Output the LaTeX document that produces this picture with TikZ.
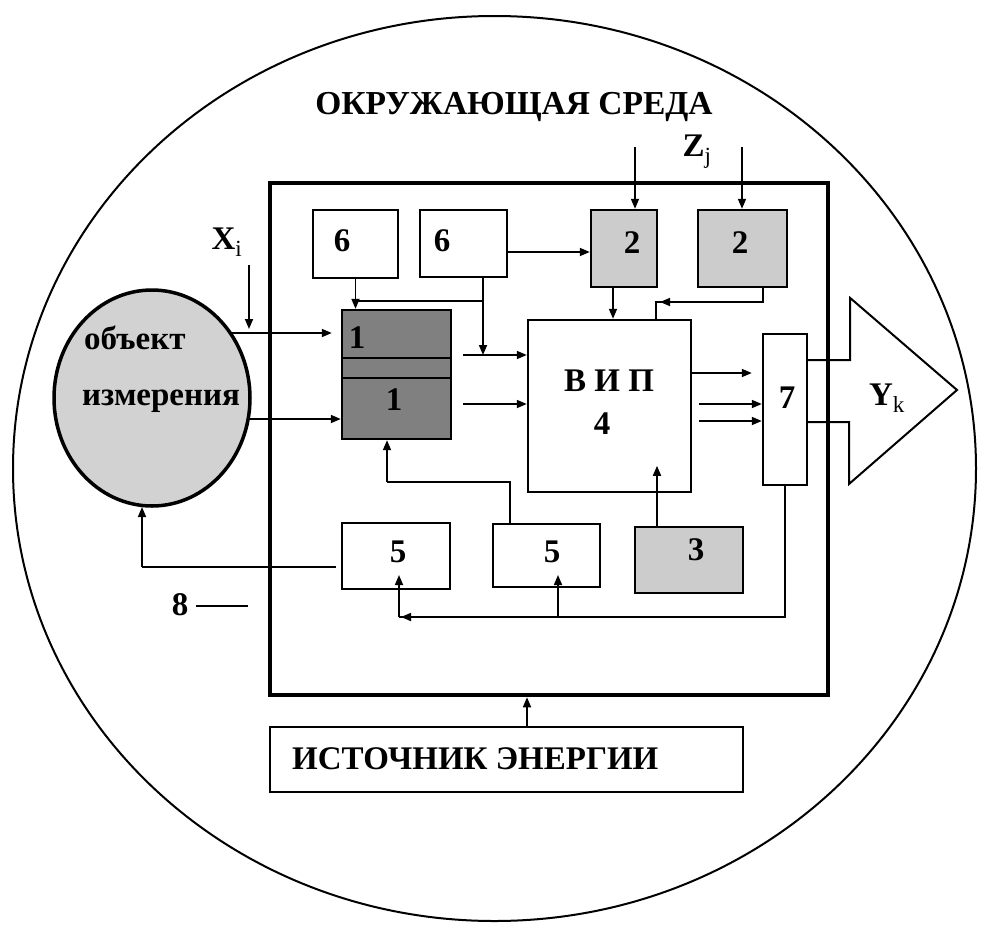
\documentclass[tikz,border=0pt]{standalone}
\usepackage{fontspec}
\setmainfont{Liberation Serif}[BoldFont={Liberation Serif Bold}]
\usetikzlibrary{arrows.meta,calc,shapes.geometric}
\begin{document}
\begin{tikzpicture}[x=1pt,y=-1pt,
  box/.style={draw,line width=2.4pt,inner sep=0pt},
  arr/.style={line width=1.7pt,-{Triangle[length=10pt,width=8pt]}},
  ln/.style={line width=1.7pt},
  txt/.style={inner sep=0pt,font=\fontsize{33}{38}\selectfont\bfseries},
  lbl/.style={inner sep=0pt,font=\fontsize{33.5}{38}\selectfont\bfseries}]
\useasboundingbox (0,0) rectangle (1007,924);
% environment ellipse
\node[draw,ellipse,line width=2pt,minimum width=963,minimum height=905,inner sep=0pt] (env) at (494.5,468.5) {};
\node[lbl] (envt) at (514,107) {ОКРУЖАЮЩАЯ СРЕДА};
% main square
\node[draw,line width=4.5pt,minimum width=558,minimum height=512,inner sep=0pt] (main) at (549,439) {};
% blocks
\node[box,minimum width=85,minimum height=68] (s6a) at (355.5,244) {};
\node[box,minimum width=87,minimum height=67] (s6b) at (463.5,243.5) {};
\node[box,fill=gray!40,minimum width=66,minimum height=77] (s2a) at (624,248.5) {};
\node[box,fill=gray!40,minimum width=89,minimum height=77] (s2b) at (742.5,248.5) {};
\node[box,fill=gray,minimum width=109,minimum height=129] (b1) at (396.5,374.5) {};
\draw[line width=2.6pt] (b1.west |- 0,358) -- (b1.east |- 0,358);
\draw[line width=2.6pt] (b1.west |- 0,378) -- (b1.east |- 0,378);
\node[box,minimum width=163,minimum height=172] (vip) at (609.5,406) {};
\node[box,minimum width=44,minimum height=151] (s7) at (785,409.5) {};
\node[box,minimum width=108,minimum height=66] (s5a) at (396,556) {};
\node[box,minimum width=107,minimum height=63] (s5b) at (546.5,555.5) {};
\node[box,fill=gray!40,minimum width=108,minimum height=66] (s3) at (689,560) {};
\node[box,minimum width=473,minimum height=65] (en) at (506.5,759.5) {};
\node[draw,ellipse,fill=gray!35,line width=3.5pt,minimum width=196,minimum height=216,inner sep=0pt] (obj) at (152,398) {};
% labels
\node[txt] (t6a) at (342,241) {6};
\node[txt] (t6b) at (442,241) {6};
\node[txt] (t2a) at (632,243) {2};
\node[txt] (t2b) at (740,243) {2};
\node[txt] (t1a) at (357,338) {1};
\node[txt] (t1b) at (394,400) {1};
\node[txt] (tvip) at (609,381) {В И П};
\node[txt] (t4) at (602,424) {4};
\node[txt] (t7) at (787,398) {7};
\node[txt] (t5a) at (398,552) {5};
\node[txt] (t5b) at (552,552) {5};
\node[txt] (t3) at (696,550) {3};
\node[txt] (tY) at (887,398) {Y\textsubscript{\normalfont k}};
\node[txt] (tX) at (227,242) {X\textsubscript{\normalfont i}};
\node[txt] (tZ) at (697,152) {Z\textsubscript{\normalfont j}};
\node[txt,anchor=west] (to1) at (84,338) {объект};
\node[txt,anchor=west] (to2) at (82,401) {измерения};
\node[txt] (t8) at (180,605) {8};
\node[txt,anchor=west] (ten) at (292,759) {ИСТОЧНИК ЭНЕРГИИ};
\draw[ln] ($(t8.east)+(8,1)$) -- ++(52,0);
% Xi arrow
\coordinate (xi) at (249,265);
\draw[arr] (xi) -- (249,329);
% object to block 1
\coordinate (oa) at ($(obj.center)+(79,-65)$);
\coordinate (ob) at ($(obj.center)+(96,21)$);
\draw[arr] (oa) -- ($(b1.west|-oa)+(-9,0)$);
\draw[arr] (ob) -- (b1.west|-ob);
% 6 blocks
\coordinate (j6) at ($(s6b.south)+(19.5,23)$);
\draw[arr] (s6a.south) -- (s6a.south |- b1.north);
\draw[ln] (j6) -- (s6a.south |- j6);
\coordinate (in1) at (463,355);
\coordinate (in2) at (463,404);
\draw[arr] (s6b.south -| j6) -- (j6 |- in1);
\draw[arr] (in1) -- (vip.west |- in1);
\draw[arr] (in2) -- (vip.west |- in2);
\coordinate (q6) at ($(s6b.east)+(0,8.5)$);
\draw[arr] (q6) -- (s2a.west |- q6);
% Z arrows
\coordinate (z1) at (635,147);
\coordinate (z2) at (742,147);
\draw[arr] (z1) -- (z1 |- s2a.north);
\draw[arr] (z2) -- (z2 |- s2b.north);
% 2 -> vip
\coordinate (a2) at ($(s2a.south)+(-11,0)$);
\draw[arr] (a2) -- (a2 |- vip.north);
\coordinate (a3) at ($(s2b.south)+(20.5,0)$);
\coordinate (a3c) at (656,302);
\draw[ln] (a3) |- (a3c) -- (a3c |- vip.north);
\draw[arr] (a3 |- a3c) -- ($(a3c)+(4,0)$);
% vip outputs
\coordinate (v1) at (vip.east |- 0,373);
\coordinate (v2) at ($(vip.east |- 0,404)+(7,0)$);
\coordinate (v3) at ($(vip.east |- 0,421)+(7,0)$);
\draw[arr] (v1) -- ($(s7.west |- v1)+(-10,0)$);
\draw[arr] (v2) -- (s7.west |- v2);
\draw[arr] (v3) -- (s7.west |- v3);
% Yk big arrow
\draw[line width=2pt,line join=miter] ($(s7.east)+(0,-49.5)$) -- ++(42,0) -- ++(0,-62) -- (957,390) -- (849,484) -- (849,422) -- ($(s7.east)+(0,12.5)$);
% 3 -> vip
\coordinate (p3) at ($(s3.north)+(-32,0)$);
\draw[arr] (p3) -- ++(0,-60);
% 5b -> block 1
\coordinate (p5) at ($(s5b.north)+(-36.5,0)$);
\coordinate (p5c) at (387,482);
\draw[ln] (p5) |- (p5c);
\draw[arr] (p5c) -- (p5c |- b1.south);
% 5a -> object
\coordinate (p5a) at ($(s5a.west)+(-5,11)$);
\coordinate (p5ac) at (142,567);
\draw[ln] (p5a) -- (p5ac);
\draw[arr] (p5ac) -- (142,507);
% 7 -> 5 blocks
\coordinate (p7) at (s7.south);
\coordinate (p7c) at (399,617);
\draw[ln] (p7) |- (p7c);
\draw[arr] ($(p7c)+(30,0)$) -- ($(p7c)+(2,0)$);
\draw[arr] (p7c) -- ++(0,-42);
\coordinate (p7b) at (558,617);
\draw[arr] (p7b) -- ++(0,-42);
% energy -> main
\coordinate (pe) at ($(en.north)+(20.5,0)$);
\draw[arr] (pe) -- (pe |- main.south);
\end{tikzpicture}
\end{document}
